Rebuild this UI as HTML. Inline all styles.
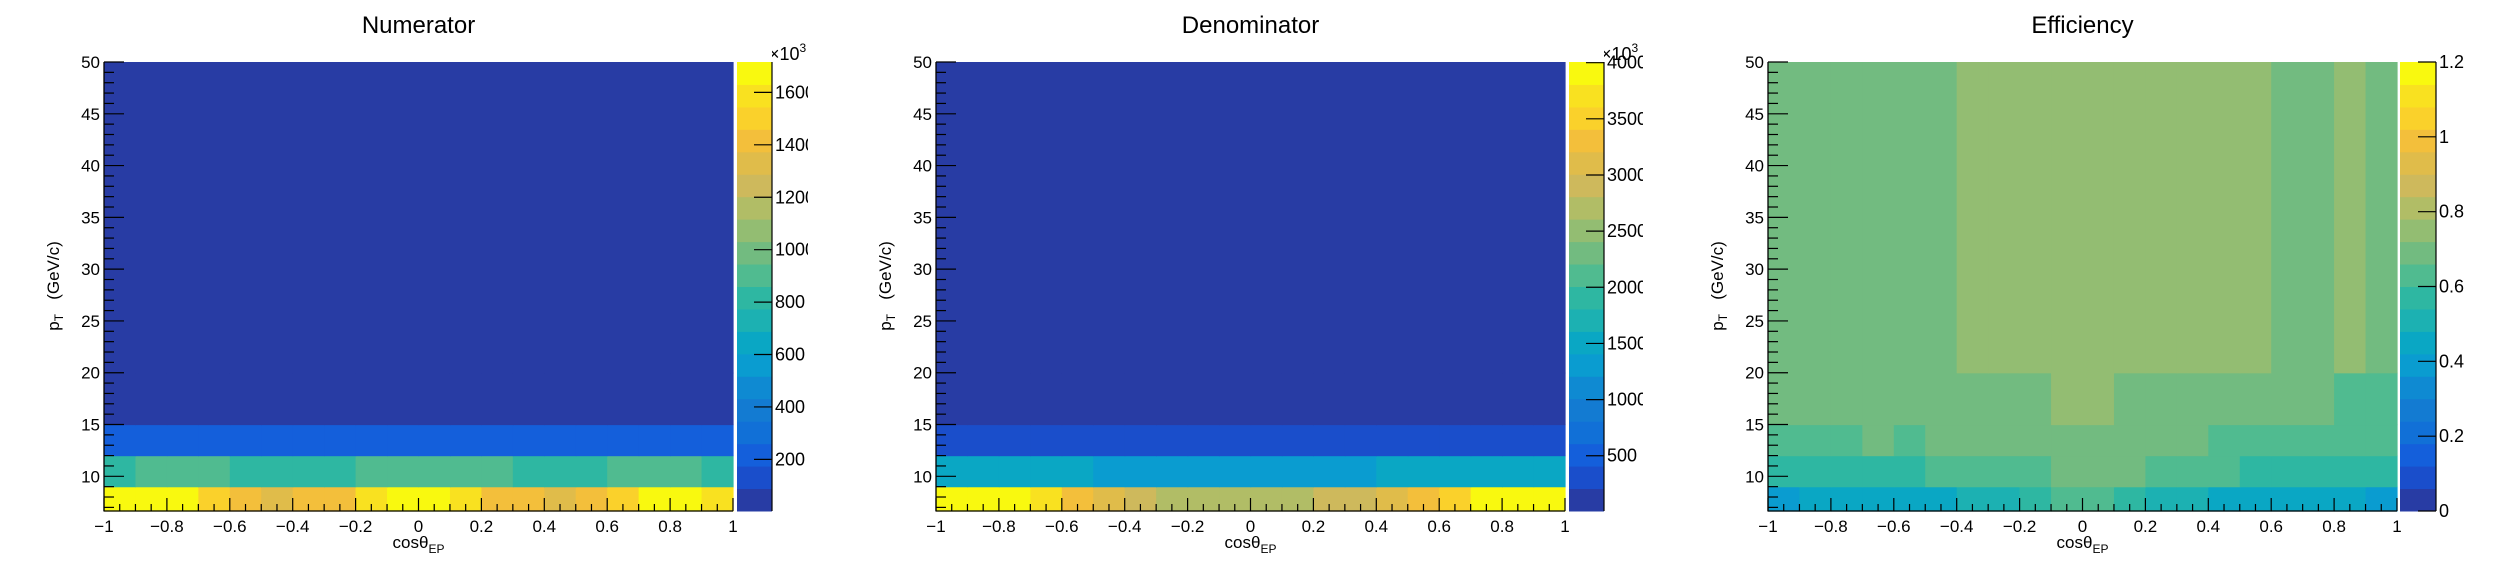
<!DOCTYPE html>
<html><head><meta charset="utf-8"><style>
html,body{margin:0;padding:0;background:#fff;}
svg{display:block;font-family:"Liberation Sans",sans-serif;}
</style></head><body>
<svg id="c" width="2496" height="572" viewBox="0 0 2496 572" xmlns="http://www.w3.org/2000/svg"></svg>
<script>
const xEdges = [-1,-0.9,-0.8,-0.7,-0.6,-0.5,-0.4,-0.3,-0.2,-0.1,0,0.1,0.2,0.3,0.4,0.5,0.6,0.7,0.8,0.9,1];
const yEdges = [6.65,9,12,15,20,50];
const xTicks = [-1,-0.8,-0.6,-0.4,-0.2,0,0.2,0.4,0.6,0.8,1];
const xTickLabels = ["\u22121","\u22120.8","\u22120.6","\u22120.4","\u22120.2","0","0.2","0.4","0.6","0.8","1"];
const yTicks = [10,15,20,25,30,35,40,45,50];
const numRow1 = [1673,1673,1673,1502,1416,1330,1416,1416,1587,1673,1673,1587,1416,1416,1330,1416,1502,1673,1673,1587];
const numRow2 = [817,902,902,902,817,817,817,817,902,902,902,902,902,817,817,817,902,902,902,817];
const numRow3 = [217,217,217,217,217,217,217,217,217,217,217,217,217,217,217,217,217,217,217,217];
const numRow4 = [45,45,45,45,45,45,45,45,45,45,45,45,45,45,45,45,45,45,45,45];
const numRow5 = [45,45,45,45,45,45,45,45,45,45,45,45,45,45,45,45,45,45,45,45];
const denRow1 = [3906,3906,3906,3706,3307,3107,2907,2707,2707,2707,2707,2707,2907,2907,3107,3307,3507,3906,3906,3906];
const denRow2 = [1507,1507,1507,1507,1507,1307,1307,1307,1307,1307,1307,1307,1307,1307,1507,1507,1507,1507,1507,1507];
const denRow3 = [308,308,308,308,308,308,308,308,308,308,308,308,308,308,308,308,308,308,308,308];
const denRow4 = [108,108,108,108,108,108,108,108,108,108,108,108,108,108,108,108,108,108,108,108];
const denRow5 = [108,108,108,108,108,108,108,108,108,108,108,108,108,108,108,108,108,108,108,108];
const effRow1 = [0.39,0.45,0.45,0.45,0.45,0.45,0.51,0.51,0.57,0.63,0.63,0.57,0.51,0.51,0.45,0.45,0.45,0.45,0.45,0.39];
const effRow2 = [0.57,0.57,0.57,0.57,0.57,0.63,0.63,0.63,0.63,0.69,0.69,0.69,0.63,0.63,0.63,0.57,0.57,0.57,0.57,0.57];
const effRow3 = [0.63,0.63,0.63,0.69,0.63,0.69,0.69,0.69,0.69,0.69,0.69,0.69,0.69,0.69,0.63,0.63,0.63,0.63,0.63,0.63];
const effRow4 = [0.69,0.69,0.69,0.69,0.69,0.69,0.69,0.69,0.69,0.75,0.75,0.69,0.69,0.69,0.69,0.69,0.69,0.69,0.63,0.63];
const effRow5 = [0.69,0.69,0.69,0.69,0.69,0.69,0.75,0.75,0.75,0.75,0.75,0.75,0.75,0.75,0.75,0.75,0.69,0.69,0.75,0.69];
const numTicks = [200,400,600,800,1000,1200,1400,1600];
const denTicks = [500,1000,1500,2000,2500,3000,3500,4000];
const effTicks = [0,0.2,0.4,0.6,0.8,1,1.2];
const palette = ["#283ca4","#1a4ecb","#145fdb","#1170d7","#137bd2","#0f8ad2","#0a9cd0","#0aa7c4","#1cb1b2","#2eb7a2","#50bb90","#72bb80","#93bd72","#b1bd66","#ceb95c","#e0bc4a","#f3bf3b","#fad12b","#f9e120","#f9f90f"];

const NS="http://www.w3.org/2000/svg";
const svg=document.getElementById('c');
function mk(tag,attrs,parent){const e=document.createElementNS(NS,tag);for(const k in attrs)e.setAttribute(k,attrs[k]);(parent||svg).appendChild(e);return e;}

const TOP=62,BOT=511;
const panels=[
 {key:'numerator',title:'Numerator',L:104,R:733,pL:737,pR:772,clip:808,zmin:3,zmax:1716,rows:[numRow1,numRow2,numRow3,numRow4,numRow5],ticks:numTicks,exp:true},
 {key:'denominator',title:'Denominator',L:936,R:1565,pL:1569,pR:1604,clip:1643,zmin:8,zmax:4006,rows:[denRow1,denRow2,denRow3,denRow4,denRow5],ticks:denTicks,exp:true},
 {key:'efficiency',title:'Efficiency',L:1768,R:2397,pL:2400,pR:2436,clip:2496,zmin:0,zmax:1.2,rows:[effRow1,effRow2,effRow3,effRow4,effRow5],ticks:effTicks,exp:false}
];

panels.forEach((p,pi)=>{
 const g=mk('g',{});
 
 
 const xs=v=>p.L+(v-xEdges[0])/(xEdges[xEdges.length-1]-xEdges[0])*(p.R-p.L);
 const ys=v=>BOT-(v-yEdges[0])/(yEdges[yEdges.length-1]-yEdges[0])*(BOT-TOP);
 const band=v=>{let b=Math.floor((v-p.zmin)/(p.zmax-p.zmin)*palette.length);return Math.max(0,Math.min(palette.length-1,b));};
 const cg=mk('g',{},g);
 
 
 p.rows.forEach((row,ri)=>{
  row.forEach((v,ci)=>{
   const x0=xs(xEdges[ci]),x1=xs(xEdges[ci+1]),y0=ys(yEdges[ri+1]),y1=ys(yEdges[ri]);
   const r=mk('rect',{x:x0,y:y0,width:x1-x0+0.6,height:y1-y0+0.6,fill:palette[band(v)]},cg);
   
   
  });
 });
 mk('line',{x1:p.L,y1:TOP,x2:p.L,y2:BOT+0.5,stroke:'#000','stroke-width':1.3},g);
 mk('line',{x1:p.L,y1:BOT,x2:p.R,y2:BOT,stroke:'#000','stroke-width':1.3},g);
 for(let v=7;v<=50;v++){
  const maj=(v%5===0);
  mk('line',{x1:p.L,y1:ys(v),x2:p.L+(maj?20:10),y2:ys(v),stroke:'#000','stroke-width':1.2},g);
 }
 yTicks.forEach(v=>{
  const t=mk('text',{x:p.L-4,y:ys(v)+6,'font-size':17,'text-anchor':'end'},g);
  t.textContent=String(v);
  
  
 });
 for(let i=0;i<=40;i++){
  const v=-1+i*0.05;const maj=(i%4===0);
  mk('line',{x1:xs(v),y1:BOT,x2:xs(v),y2:BOT-(maj?13:7),stroke:'#000','stroke-width':1.2},g);
 }
 xTicks.forEach((v,i)=>{
  const t=mk('text',{x:xs(v),y:532,'font-size':17,'text-anchor':'middle'},g);
  t.textContent=xTickLabels[i];
  
  
 });
 const tt=mk('text',{x:(p.L+p.R)/2,y:33,'font-size':24,'text-anchor':'middle'},g);
 tt.textContent=p.title;
 
 
 const xt=mk('text',{x:(p.L+p.R)/2,y:548,'font-size':17,'text-anchor':'middle'},g);
 xt.innerHTML='cos\u03b8<tspan font-size="12" dy="5">EP</tspan>';
 
 
 const yt=mk('text',{x:0,y:0,'font-size':17,'text-anchor':'middle',style:'white-space:pre',transform:`translate(${p.L-45},286) rotate(-90)`},g);
 yt.innerHTML='p<tspan font-size="12" dy="4">T</tspan><tspan dy="-4">   (GeV/c)</tspan>';
 
 
 const pg=mk('g',{},g);
 
 
 const bh=(BOT-TOP)/palette.length;
 palette.forEach((c,i)=>{
  mk('rect',{x:p.pL,y:BOT-(i+1)*bh,width:p.pR-p.pL,height:bh+0.5,fill:c},pg);
 });
 mk('line',{x1:p.pR,y1:TOP,x2:p.pR,y2:BOT,stroke:'#000','stroke-width':1.2},pg);
 const cid='clip'+pi;
 const cp=mk('clipPath',{id:cid});
 mk('rect',{x:p.pR,y:0,width:p.clip-p.pR,height:572},cp);
 const lg=mk('g',{'clip-path':`url(#${cid})`},pg);
 const zs=v=>BOT-(v-p.zmin)/(p.zmax-p.zmin)*(BOT-TOP);
 p.ticks.forEach(v=>{
  mk('line',{x1:p.pR-18,y1:zs(v),x2:p.pR,y2:zs(v),stroke:'#000','stroke-width':1.2},pg);
  const t=mk('text',{x:p.pR+3,y:zs(v)+6,'font-size':18},lg);
  t.textContent=String(v);
  
  
 });
 if(p.exp){
  const e=mk('text',{x:p.pR-3,y:60,'font-size':18},lg);
  e.innerHTML='\u00d710<tspan font-size="12" dy="-8">3</tspan>';
  
  
 }
});
</script>
</body></html>
